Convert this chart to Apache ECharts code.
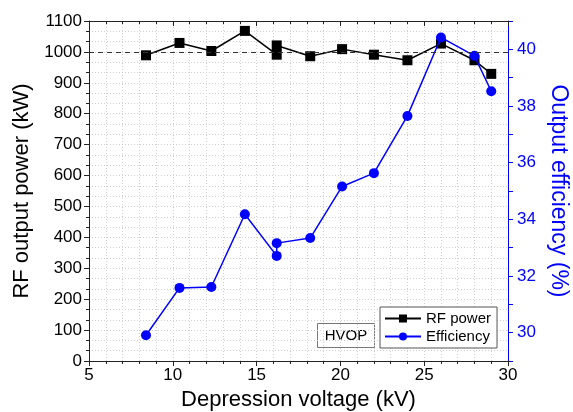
<!doctype html>
<html>
<head>
<meta charset="UTF-8">
<title>RF power and efficiency</title>
<script src="https://cdn.jsdelivr.net/npm/echarts@6/dist/echarts.min.js"></script>
<style>
  html, body { margin: 0; padding: 0; background: #fff; }
  #main { width: 573px; height: 412px; }
</style>
</head>
<body>
<div id="main"></div>
<script type="text/javascript">
// depression voltage (kV)
var voltage = [8.4, 10.4, 12.3, 14.3, 16.2, 16.2, 18.2, 20.1, 22.0, 24.0, 26.0, 28.0, 29.0];
// RF output power (kW)
var power = [989, 1029, 1003, 1068, 991, 1021, 986, 1009, 991, 973, 1027, 973, 929];
// output efficiency (%)
var efficiency = [29.91, 31.58, 31.61, 34.18, 32.71, 33.16, 33.34, 35.16, 35.63, 37.65, 40.42, 39.77, 38.52];
var refPower = 1000;

var font = 'Liberation Sans, Arial, sans-serif';
var blue = '#0000ff';

function pairs(xs, ys) {
    var out = [];
    for (var i = 0; i < xs.length; i++) out.push([xs[i], ys[i]]);
    return out;
}

var myChart = echarts.init(document.getElementById('main'));

var gridLine = { show: true, lineStyle: { color: '#cfcfcf', type: [1, 2], width: 1 } };

var option = {
    animation: false,
    backgroundColor: '#fff',
    textStyle: { fontFamily: font },
    grid: { left: 89, right: 65, top: 21, bottom: 51, containLabel: false, outerBoundsMode: 'none' },
    legend: {
        orient: 'vertical',
        left: 380, top: 307,
        padding: [4, 6, 4, 4],
        itemGap: 3,
        itemWidth: 36, itemHeight: 10,
        borderColor: '#555', borderWidth: 1,
        backgroundColor: '#fff',
        textStyle: { fontSize: 15, color: '#000', fontFamily: font },
        data: ['RF power', 'Efficiency']
    },
    graphic: [{
        type: 'group', left: 317, top: 323,
        children: [
            { type: 'rect', shape: { x: 0, y: 0, width: 57, height: 24 },
              style: { fill: '#fff', stroke: '#777', lineWidth: 1 } },
            { type: 'text', x: 28.5, y: 12,
              style: { text: 'HVOP', fontSize: 15, fontFamily: font, fill: '#000', align: 'center', verticalAlign: 'middle' } }
        ]
    }],
    xAxis: [{
        type: 'value', min: 5, max: 30, interval: 5,
        name: 'Depression voltage (kV)', nameLocation: 'middle', nameGap: 26,
        nameTextStyle: { fontSize: 22, color: '#000', fontFamily: font },
        axisLine: { lineStyle: { color: '#222', width: 1 } },
        axisTick: { inside: false, length: 5, lineStyle: { color: '#222' } },
        minorTick: { show: true, splitNumber: 5, length: 3, lineStyle: { color: '#222' } },
        axisLabel: { fontSize: 17, color: '#000', margin: 6, fontFamily: font },
        splitLine: gridLine,
        minorSplitLine: gridLine
    }, {
        type: 'value', min: 5, max: 30, interval: 5, position: 'top',
        axisLine: { onZero: false, lineStyle: { color: '#222', width: 1 } },
        axisTick: { inside: true, length: 5, lineStyle: { color: '#222' } },
        minorTick: { show: true, splitNumber: 5, length: 3, lineStyle: { color: '#222' } },
        axisLabel: { show: false },
        splitLine: { show: false }
    }],
    yAxis: [{
        type: 'value', min: 0, max: 1100, interval: 100,
        name: 'RF output power (kW)', nameLocation: 'middle', nameGap: 52,
        nameTextStyle: { fontSize: 22, color: '#000', fontFamily: font },
        axisLine: { show: true, lineStyle: { color: '#222', width: 1 } },
        axisTick: { show: true, inside: false, length: 5, lineStyle: { color: '#222' } },
        minorTick: { show: true, splitNumber: 3, length: 3, lineStyle: { color: '#222' } },
        axisLabel: {
            fontSize: 17, color: '#000', margin: 7, fontFamily: font,
            formatter: function (v) { return String(v); }
        },
        splitLine: gridLine,
        minorSplitLine: gridLine
    }, {
        type: 'value', min: 29, max: 41, interval: 1, position: 'right',
        name: 'Output efficiency (%)', nameLocation: 'middle', nameGap: 30, nameRotate: -90,
        nameTextStyle: { fontSize: 23, color: blue, fontFamily: font },
        axisLine: { show: true, onZero: false, lineStyle: { color: blue, width: 1 } },
        axisTick: { show: true, inside: false, length: 5, lineStyle: { color: blue } },
        axisLabel: {
            fontSize: 17, color: blue, margin: 9, fontFamily: font,
            formatter: function (v) { return v % 2 === 0 ? String(v) : ''; }
        },
        splitLine: { show: false }
    }],
    series: [{
        name: 'RF power',
        type: 'line',
        xAxisIndex: 0, yAxisIndex: 0,
        data: pairs(voltage, power),
        symbol: 'rect', symbolSize: 10,
        itemStyle: { color: '#000' },
        lineStyle: { color: '#000', width: 1.5 },
        markLine: {
            silent: true, symbol: 'none',
            label: { show: false },
            lineStyle: { color: '#333', type: [5, 4], width: 1 },
            data: [{ yAxis: refPower }]
        },
        z: 3
    }, {
        name: 'Efficiency',
        type: 'line',
        xAxisIndex: 0, yAxisIndex: 1,
        data: pairs(voltage, efficiency),
        symbol: 'circle', symbolSize: 10,
        itemStyle: { color: blue },
        lineStyle: { color: blue, width: 1.5 },
        z: 4
    }]
};

myChart.setOption(option);
</script>
</body>
</html>
